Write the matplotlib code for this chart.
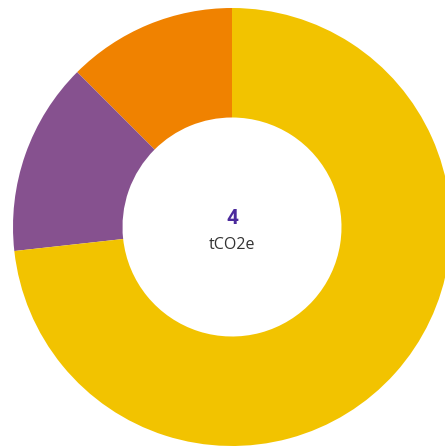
import matplotlib
matplotlib.use("Agg")
import matplotlib.pyplot as plt

# segments, counter-clockwise from 12 o'clock (tCO2e)
labels = ["Orange", "Purple", "Yellow"]
values = [0.50, 0.57, 2.93]
colors = ["#F08200", "#86518F", "#F2C300"]
total_label = "4"
unit_label = "tCO2e"

plt.rcParams['font.family'] = ['Open Sans', 'DejaVu Sans']

fig = plt.figure(figsize=(4.45, 4.46), dpi=100)
# donut centre sits at (232, 227) px, radius ~219 px
r_px = 219
ax = fig.add_axes([(232 - r_px) / 445, (446 - 227 - r_px) / 446,
                   2 * r_px / 445, 2 * r_px / 446])

ax.pie(values, colors=colors, startangle=90, counterclock=True,
       radius=1.0, wedgeprops=dict(width=0.5, linewidth=0))
ax.set_xlim(-1, 1)
ax.set_ylim(-1, 1)
ax.set_aspect('equal', adjustable='box')
ax.axis('off')

ax.text(0, 0.04, total_label, ha='center', va='center', fontsize=15,
        fontweight='bold', family=['Roboto', 'DejaVu Sans'], color="#4B2A9C")
ax.text(0, -0.08, unit_label, ha='center', va='center', fontsize=11.5,
        color="#333333")

fig.savefig("out.png", dpi=100)
